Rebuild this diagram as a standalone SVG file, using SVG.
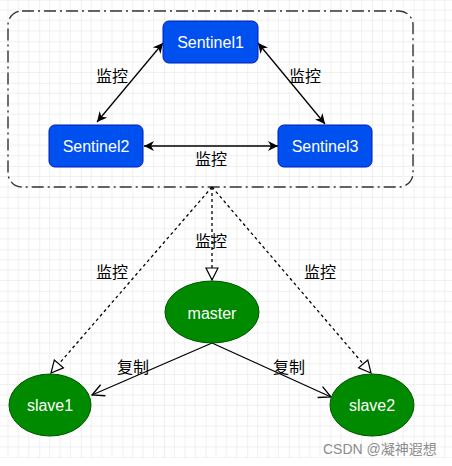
<svg xmlns="http://www.w3.org/2000/svg" width="452" height="466" viewBox="0 0 452 466">
<defs>
<pattern id="grid" x="-2.4" y="-0.3" width="41.6" height="41.6" patternUnits="userSpaceOnUse">
<path d="M10.4 0V41.6M20.8 0V41.6M31.2 0V41.6M0 10.4H41.6M0 20.8H41.6M0 31.2H41.6" stroke="#f0f0f0" stroke-width="1" fill="none"/>
<path d="M0 0V41.6M0 0H41.6" stroke="#e2e2e2" stroke-width="1" fill="none"/>
</pattern>
<marker id="classic" viewBox="0 0 10 10" refX="10" refY="5" markerWidth="10" markerHeight="10" markerUnits="userSpaceOnUse" orient="auto-start-reverse">
<path d="M0 0L10 5L0 10L3 5Z" fill="#000"/>
</marker>
<marker id="tri" viewBox="0 0 14 14" refX="13" refY="7" markerWidth="14" markerHeight="14" markerUnits="userSpaceOnUse" orient="auto">
<path d="M1 1L13 7L1 13Z" fill="#fff" stroke="#000" stroke-width="1.2"/>
</marker>
<marker id="open" viewBox="0 0 14 14" refX="13" refY="7" markerWidth="14" markerHeight="14" markerUnits="userSpaceOnUse" orient="auto">
<path d="M1 1L13 7L1 13" fill="none" stroke="#000" stroke-width="1.3"/>
</marker>
</defs>
<style>
.sent rect{fill:#0050ef;stroke:#001dbc;stroke-width:1}
.node text{font-family:"Liberation Sans",Arial,sans-serif;font-size:16px;fill:#fff;text-anchor:middle}
.red ellipse{fill:#008a00;stroke:#005700;stroke-width:1}
.lbl{font-family:"Liberation Sans","Noto Sans CJK SC",sans-serif;font-size:16px;fill:#000;text-anchor:middle}
.solid{stroke:#000;stroke-width:1.3;fill:none}
.dot{stroke:#000;stroke-width:1.3;fill:none;stroke-dasharray:3 3}
</style>
<rect width="452" height="466" fill="#fff"/>
<rect width="452" height="458" fill="url(#grid)"/>
<g id="container">
<rect x="8" y="11" width="405" height="176" rx="14" ry="14" fill="none" stroke="#333" stroke-width="1.4" stroke-dasharray="12 4 2 4"/>
</g>
<g id="connectors">
<line class="solid" x1="163" y1="43" x2="97" y2="122" marker-start="url(#classic)" marker-end="url(#classic)"/>
<line class="solid" x1="258" y1="43" x2="325" y2="124" marker-start="url(#classic)" marker-end="url(#classic)"/>
<line class="solid" x1="144" y1="146" x2="278" y2="146" marker-start="url(#classic)" marker-end="url(#classic)"/>
<line class="dot" x1="212" y1="187" x2="212" y2="280" marker-end="url(#tri)"/>
<line class="dot" x1="212" y1="187" x2="51" y2="373" marker-end="url(#tri)"/>
<line class="dot" x1="212" y1="187" x2="371" y2="373" marker-end="url(#tri)"/>
<line class="solid" x1="212" y1="343" x2="92" y2="395" marker-end="url(#open)"/>
<line class="solid" x1="212" y1="343" x2="331" y2="397" marker-end="url(#open)"/>
<text class="lbl" x="112" y="82">监控</text>
<text class="lbl" x="305" y="82">监控</text>
<text class="lbl" x="211" y="165">监控</text>
<text class="lbl" x="211" y="247">监控</text>
<text class="lbl" x="112" y="278">监控</text>
<text class="lbl" x="320" y="278">监控</text>
<text class="lbl" x="133" y="373">复制</text>
<text class="lbl" x="289" y="373">复制</text>
</g>
<g id="sentinel1" class="node sent"><rect x="163" y="21" width="95" height="42" rx="6"/><text x="210.5" y="48">Sentinel1</text></g>
<g id="sentinel2" class="node sent"><rect x="49" y="125" width="94" height="42" rx="6"/><text x="96" y="152">Sentinel2</text></g>
<g id="sentinel3" class="node sent"><rect x="278" y="125" width="94" height="42" rx="6"/><text x="325" y="152">Sentinel3</text></g>
<g id="master" class="node red"><ellipse cx="212" cy="312" rx="47" ry="31"/><text x="212" y="319">master</text></g>
<g id="slave1" class="node red"><ellipse cx="50" cy="405" rx="41" ry="31"/><text x="50" y="411">slave1</text></g>
<g id="slave2" class="node red"><ellipse cx="372" cy="405" rx="42" ry="31"/><text x="372" y="411">slave2</text></g>
<text x="323" y="454" font-family="'Liberation Sans','Noto Sans CJK SC',sans-serif" font-size="14" fill="#8c8c8c">CSDN @凝神遐想</text>
</svg>
